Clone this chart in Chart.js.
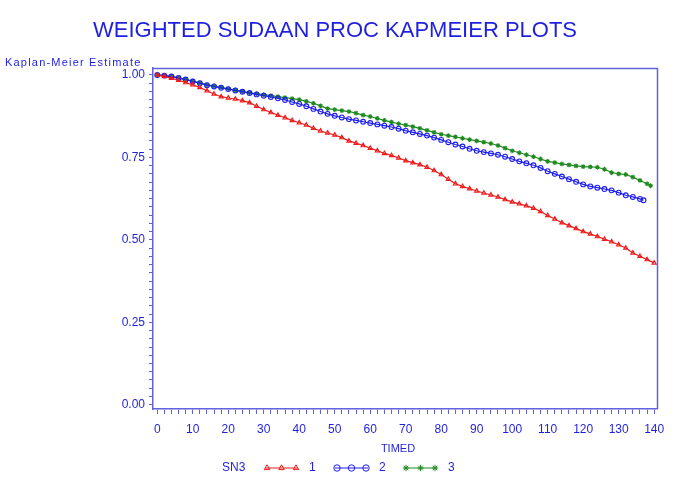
<!DOCTYPE html>
<html><head><meta charset="utf-8">
<script src="https://cdn.jsdelivr.net/npm/chart.js@4/dist/chart.umd.min.js"></script>
<style>html,body{margin:0;padding:0;background:#fff;}#wrap{width:685px;height:488px;}</style>
</head><body><div id="wrap"><canvas id="c" width="685" height="488"></canvas></div>
<script>
// ---- data ----
const timeRed = [0,2,4,6,8,10,12,14,16,18,20,22,24,26,28,30,32,34,36,38,40,42,44,46,48,50,52,54,56,58,60,62,64,66,68,70,72,74,76,78,80,82,84,86,88,90,92,94,96,98,100,102,104,106,108,110,112,114,116,118,120,122,124,126,128,130,132,134,136,138,140];
const survRed = [1.000,0.995,0.990,0.984,0.977,0.970,0.962,0.952,0.942,0.934,0.930,0.927,0.922,0.916,0.905,0.895,0.886,0.878,0.870,0.862,0.855,0.848,0.838,0.830,0.824,0.818,0.810,0.800,0.793,0.786,0.778,0.770,0.762,0.756,0.748,0.740,0.734,0.728,0.720,0.710,0.698,0.684,0.670,0.662,0.655,0.648,0.642,0.636,0.630,0.622,0.615,0.609,0.603,0.596,0.586,0.574,0.563,0.552,0.543,0.534,0.525,0.518,0.510,0.502,0.494,0.485,0.475,0.460,0.450,0.440,0.430];
const timeBlue = [0,2,4,6,8,10,12,14,16,18,20,22,24,26,28,30,32,34,36,38,40,42,44,46,48,50,52,54,56,58,60,62,64,66,68,70,72,74,76,78,80,82,84,86,88,90,92,94,96,98,100,102,104,106,108,110,112,114,116,118,120,122,124,126,128,130,132,134,136,137];
const survBlue = [1.000,0.998,0.995,0.991,0.986,0.980,0.975,0.969,0.965,0.961,0.957,0.953,0.949,0.945,0.941,0.937,0.933,0.929,0.924,0.918,0.912,0.905,0.897,0.889,0.882,0.876,0.871,0.866,0.862,0.858,0.854,0.850,0.846,0.842,0.837,0.831,0.826,0.821,0.816,0.810,0.803,0.796,0.789,0.783,0.776,0.770,0.766,0.762,0.758,0.752,0.745,0.738,0.732,0.726,0.718,0.708,0.700,0.692,0.684,0.676,0.668,0.662,0.658,0.654,0.650,0.643,0.635,0.630,0.624,0.620];
const timeGreen = [0,2,4,6,8,10,12,14,16,18,20,22,24,26,28,30,32,34,36,38,40,42,44,46,48,50,52,54,56,58,60,62,64,66,68,70,72,74,76,78,80,82,84,86,88,90,92,94,96,98,100,102,104,106,108,110,112,114,116,118,120,122,124,126,128,130,132,134,136,138,139];
const survGreen = [1.000,0.998,0.995,0.991,0.986,0.981,0.976,0.970,0.966,0.962,0.958,0.954,0.950,0.946,0.943,0.940,0.937,0.934,0.931,0.928,0.925,0.920,0.914,0.906,0.898,0.895,0.892,0.889,0.884,0.878,0.874,0.868,0.862,0.857,0.852,0.848,0.843,0.838,0.832,0.826,0.820,0.816,0.812,0.808,0.804,0.800,0.796,0.792,0.786,0.778,0.770,0.764,0.758,0.752,0.745,0.738,0.734,0.730,0.727,0.724,0.722,0.721,0.720,0.714,0.704,0.700,0.698,0.690,0.680,0.670,0.664];
const seriesNames = ['1','2','3'];
const legendTitle = 'SN3';
const xMajorTicks = [0,10,20,30,40,50,60,70,80,90,100,110,120,130,140];
const yMajorTicks = ['0.00','0.25','0.50','0.75','1.00'];
const chartTitle = 'WEIGHTED SUDAAN PROC KAPMEIER PLOTS';
const yTitle = 'Kaplan-Meier Estimate';
const xTitle = 'TIMED';

// ---- styling ----
const TEXT = '#1f1fe0';
const AXIS = '#6262dc';
const COLORS = ['#ee1c1c', '#1c1cf0', '#1f8a1f'];
const STYLES = ['triangle', 'circle', 'star'];
const FONT = '"Liberation Sans", Arial, sans-serif';

function pairs(t, s) { return t.map((v, i) => ({ x: v, y: s[i] })); }

const xMinor = []; for (let i = 0; i <= 70; i++) xMinor.push(i * 2);
const yMinor = []; for (let i = 0; i <= 40; i++) yMinor.push(i * 25 / 1000);

const datasets = [[timeRed, survRed], [timeBlue, survBlue], [timeGreen, survGreen]].map((d, k) => ({
  label: seriesNames[k],
  data: pairs(d[0], d[1]),
  borderColor: COLORS[k],
  backgroundColor: 'transparent',
  pointBorderColor: COLORS[k],
  pointBackgroundColor: 'transparent',
  pointStyle: STYLES[k],
  pointRadius: 2.4,
  pointBorderWidth: 1.1,
  borderWidth: 1.2,
  tension: 0
}));

const decor = {
  id: 'decor',
  afterDraw(chart) {
    const ctx = chart.ctx, a = chart.chartArea;
    ctx.save();
    // frame top & right
    ctx.strokeStyle = AXIS; ctx.lineWidth = 1.5;
    ctx.beginPath();
    ctx.moveTo(a.left, a.top + 0.5); ctx.lineTo(a.right + 0.5, a.top + 0.5); ctx.lineTo(a.right + 0.5, a.bottom);
    ctx.stroke();
    ctx.fillStyle = TEXT;
    // title
    ctx.font = '22px ' + FONT; ctx.textAlign = 'center'; ctx.textBaseline = 'middle';
    ctx.fillText(chartTitle, 335, 31);
    // y title
    ctx.font = '11px ' + FONT; ctx.textAlign = 'left';
    try { ctx.letterSpacing = '1.2px'; } catch (e) {}
    ctx.fillText(yTitle, 5, 63);
    try { ctx.letterSpacing = '0px'; } catch (e) {}
    // x title
    ctx.font = '11px ' + FONT; ctx.textAlign = 'center';
    ctx.fillText(xTitle, 398, 449);
    // legend
    ctx.font = '12px ' + FONT; ctx.textAlign = 'left';
    const ly = 468;
    ctx.fillText(legendTitle, 222, ly);
    const starts = [267, 337, 406];
    for (let k = 0; k < 3; k++) {
      const x0 = starts[k];
      ctx.strokeStyle = COLORS[k]; ctx.fillStyle = 'rgba(0,0,0,0)'; ctx.lineWidth = 1;
      ctx.beginPath(); ctx.moveTo(x0 - 2, ly); ctx.lineTo(x0 + 31, ly); ctx.stroke();
      for (let j = 0; j < 3; j++) {
        Chart.helpers.drawPoint(ctx, { pointStyle: STYLES[k], radius: 3.2, borderWidth: 1, rotation: 0 }, x0 + j * 14.5, ly);
      }
      ctx.fillStyle = TEXT;
      ctx.fillText(seriesNames[k], x0 + 42, ly);
    }
    ctx.restore();
  }
};

new Chart(document.getElementById('c'), {
  type: 'line',
  data: { datasets },
  options: {
    responsive: false,
    devicePixelRatio: 1,
    animation: false,
    layout: { padding: { left: 0, right: 28, top: 68, bottom: 0 } },
    plugins: { legend: { display: false }, tooltip: { enabled: false }, title: { display: false } },
    scales: {
      x: {
        type: 'linear', min: -1.2, max: 140.8,
        afterBuildTicks: s => { s.ticks = xMinor.map(v => ({ value: v })); },
        afterFit: s => { s.height = 79; },
        ticks: {
          autoSkip: false, maxRotation: 0, padding: 8, color: TEXT,
          font: { family: FONT, size: 12 },
          callback: v => xMajorTicks.includes(v) ? String(v) : ''
        },
        grid: { drawOnChartArea: false, drawTicks: true, tickLength: 5, color: AXIS, lineWidth: 1 },
        border: { color: AXIS, width: 1.5 }
      },
      y: {
        type: 'linear', min: -0.013, max: 1.021,
        afterBuildTicks: s => { s.ticks = yMinor.map(v => ({ value: v })); },
        afterFit: s => { s.width = 153; },
        ticks: {
          autoSkip: false, padding: 4, color: TEXT,
          font: { family: FONT, size: 12 },
          callback: v => { const l = v.toFixed(2); return (Math.round(v * 1000) % 250 === 0 && yMajorTicks.includes(l)) ? l : ''; }
        },
        grid: { drawOnChartArea: false, drawTicks: true, tickLength: 4, color: AXIS, lineWidth: 1 },
        border: { color: AXIS, width: 1.5 }
      }
    }
  },
  plugins: [decor]
});
</script></body></html>
